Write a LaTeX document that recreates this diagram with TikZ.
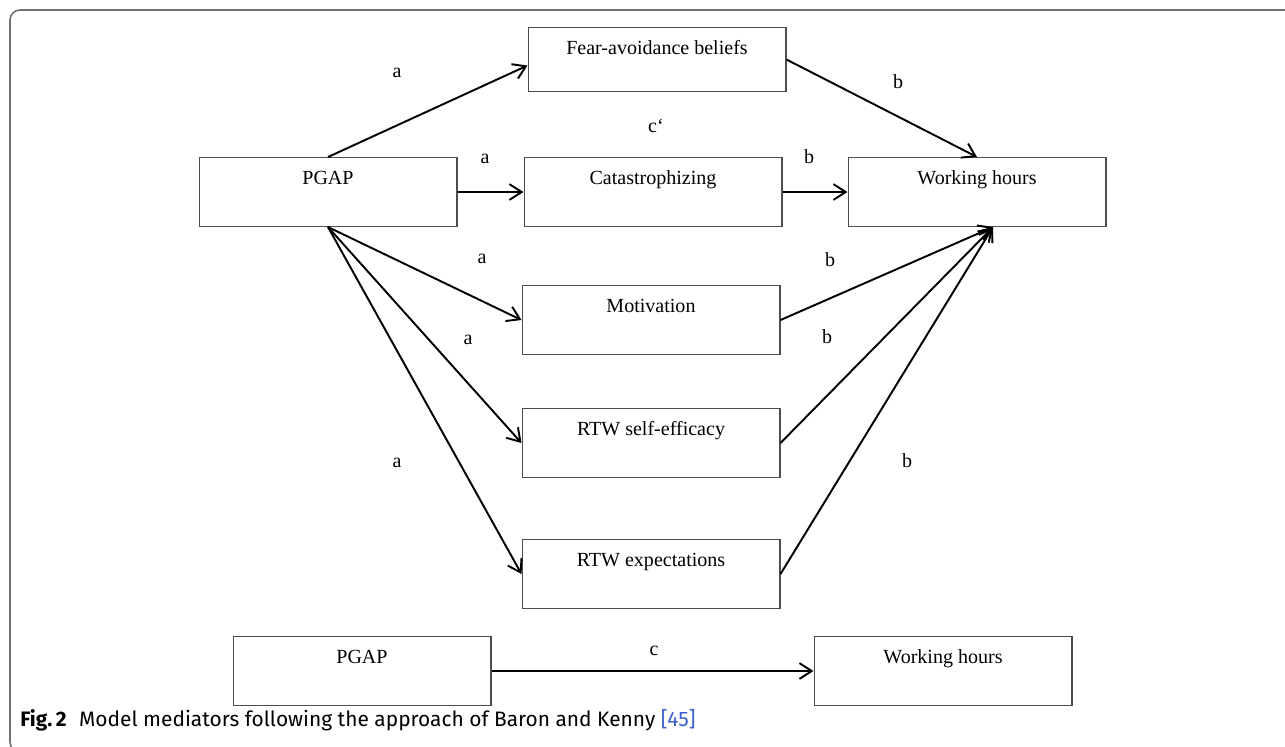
\documentclass[tikz,border=0pt]{standalone}
\usepackage{fontspec}
\setmainfont{Liberation Serif}
\newfontfamily\capfont{Fira Sans}
\usepackage{xcolor}
\usetikzlibrary{arrows.meta}

\definecolor{boxline}{HTML}{4D4D4D}
\definecolor{framegray}{HTML}{707070}
\definecolor{citeblue}{HTML}{3A5FD0}

\tikzset{
  mbox/.style={draw=boxline, line width=0.6pt, minimum width=5.16cm, inner sep=0pt,
    text height=0.54cm, text depth=0.84cm, font=\fontsize{11.4}{13}\selectfont},
  conn/.style={-{Straight Barb[length=7pt,width=9pt]}, line width=1.1pt},
  lbl/.style={anchor=base, inner sep=0pt, font=\fontsize{11.4}{13}\selectfont}
}

\begin{document}
\begin{tikzpicture}[x=0.02cm, y=-0.02cm]
\useasboundingbox (0,0) rectangle (1285,747);
% outer frame of the figure
\draw[framegray, line width=0.9pt, rounded corners=0.2cm] (1300,10) -- (10,10) -- (10,752) -- (1300,752);

% boxes (anchored at their top edge)
\node[mbox, anchor=north] (pgap) at (328,157) {PGAP};
\node[mbox, anchor=north, text depth=0.74cm] (fear) at (657,27) {Fear-avoidance beliefs};
\node[mbox, anchor=north] (cat) at (653,157) {Catastrophizing};
\node[mbox, anchor=north] (wh) at (977,157) {Working hours};
\node[mbox, anchor=north] (mot) at (651,285) {Motivation};
\node[mbox, anchor=north] (selfeff) at (651,408) {RTW self-efficacy};
\node[mbox, anchor=north] (expect) at (651,539) {RTW expectations};
\node[mbox, anchor=north] (pgap2) at (362,636) {PGAP};
\node[mbox, anchor=north] (wh2) at (943,636) {Working hours};

% paths a and b
\draw[conn] (pgap.north) -- ([yshift=-0.12cm]fear.west);
\draw[conn] (fear.east) -- (wh.north);
\draw[conn] (pgap.east) -- (cat.west);
\draw[conn] (cat.east) -- (wh.west);
\foreach \m in {mot,selfeff,expect}
  \draw[conn] (pgap.south) -- (\m.west);
\foreach \m in {mot,selfeff,expect}
  \draw[conn] (\m.east) -- ([xshift=0.32cm]wh.south);
% total effect c
\draw[conn] (pgap2.east) -- (wh2.west);

% path labels
\node[lbl] (la1) at (397,77) {a};
\node[lbl] (lb1) at (898,88) {b};
\node[lbl] (lc1) at (656,132) {c‘};
\node[lbl] (la2) at (485,163) {a};
\node[lbl] (lb2) at (809,163) {b};
\node[lbl] (la3) at (482,263) {a};
\node[lbl] (lb3) at (830,266) {b};
\node[lbl] (la4) at (468,344) {a};
\node[lbl] (lb4) at (827,343) {b};
\node[lbl] (la5) at (397,467) {a};
\node[lbl] (lb5) at (907,467) {b};
\node[lbl] (lc2) at (654,655) {c};

% caption
\node[anchor=base west, inner sep=0pt, font=\capfont\fontsize{11.9}{14}\selectfont] (cap) at (20,726)
  {\textbf{Fig.\,2}\hspace{0.6em}Model mediators following the approach of Baron and Kenny \textcolor{citeblue}{[45]}};
\end{tikzpicture}
\end{document}
